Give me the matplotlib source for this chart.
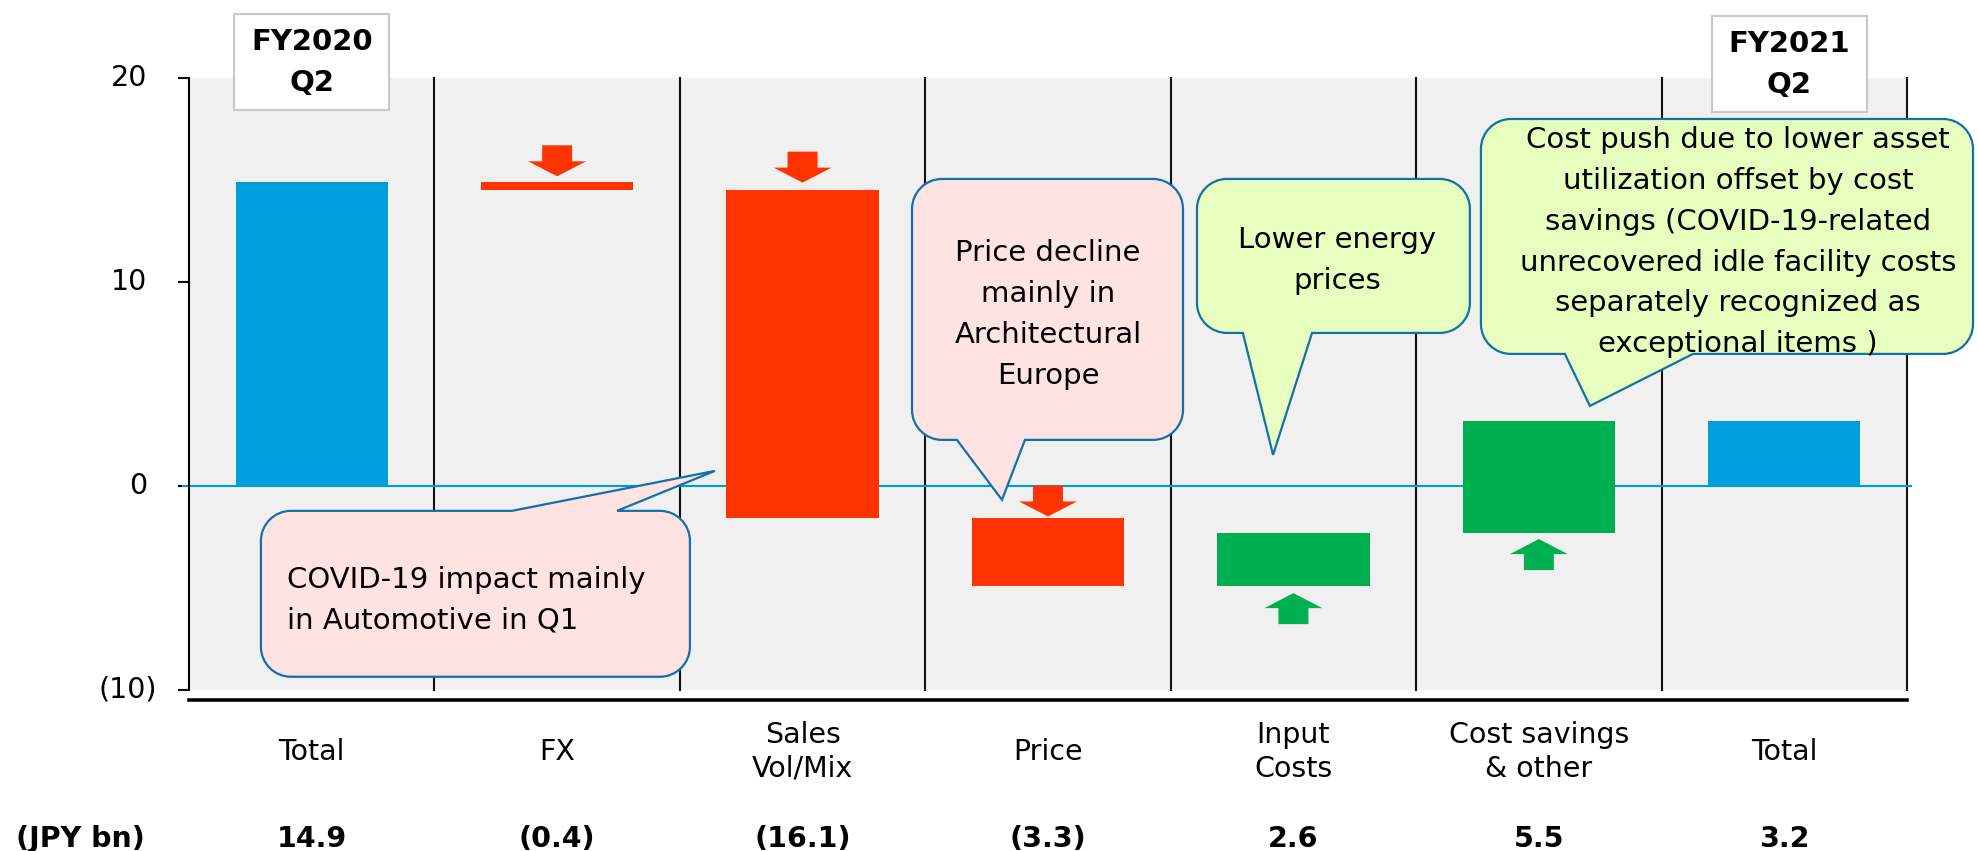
import matplotlib
matplotlib.use("Agg")
import matplotlib.pyplot as plt
import matplotlib.transforms as mtransforms
from matplotlib.path import Path
from matplotlib.patches import PathPatch, Rectangle, Polygon

# ---------------- data ----------------
categories = ["Total", "FX", "Sales\nVol/Mix", "Price", "Input\nCosts",
              "Cost savings\n& other", "Total"]
values = [14.9, -0.4, -16.1, -3.3, 2.6, 5.5, 3.2]
is_total = [True, False, False, False, False, False, True]
value_labels = ["14.9", "(0.4)", "(16.1)", "(3.3)", "2.6", "5.5", "3.2"]
unit_label = "(JPY bn)"
yticks = [-10, 0, 10, 20]
ytick_labels = ["(10)", "0", "10", "20"]
period_labels = ["FY2020\nQ2", "FY2021\nQ2"]
callout_texts = [
    "COVID-19 impact mainly\nin Automotive in Q1",
    "Price decline\nmainly in\nArchitectural\nEurope",
    "Lower energy\nprices",
    "Cost push due to lower asset\nutilization offset by cost\nsavings (COVID-19-related\n"
    "unrecovered idle facility costs\nseparately recognized as\nexceptional items )",
]

# ---------------- style ----------------
BLUE = "#009DDC"
RED = "#FF3300"
GREEN = "#00AF50"
BG = "#F0F0F0"
PINK = "#FFE3E3"
LIME = "#E6FFBE"
EDGE = "#1470A6"
FONT = "DejaVu Sans"
plt.rcParams["font.family"] = [FONT]

W, H, DPI = 1978, 851, 100
fig = plt.figure(figsize=(W / DPI, H / DPI), dpi=DPI)
ax_l, ax_r, ax_t, ax_b = 189, 1907, 78, 700
ax = fig.add_axes([ax_l / W, (H - ax_b) / H, (ax_r - ax_l) / W, (ax_b - ax_t) / H])
ax.set_facecolor("none")
n = len(categories)
ax.set_xlim(-0.5, n - 0.5)
ax.set_ylim(-10.5, 20)
sx = (ax_r - ax_l) / n          # px per x unit
sy = (ax_b - ax_t) / 30.5       # px per y unit

# background and grid separators
ax.axhspan(-10, 20, color=BG, zorder=0, lw=0)
for b in range(n):
    ax.plot([b + 0.5, b + 0.5], [-10, 20], color="#111111", lw=1.5, zorder=1,
            clip_on=False)

# spines
for s in ["top", "right"]:
    ax.spines[s].set_visible(False)
ax.spines["left"].set_bounds(-10, 20)
ax.spines["left"].set_linewidth(1.5)
ax.spines["bottom"].set_linewidth(2.6)
ax.set_xticks([])
ax.set_yticks(yticks)
ax.tick_params(axis="y", direction="out", length=8, width=1.5, labelleft=False)

ytr = ax.get_yaxis_transform()
for t, lab in zip(yticks, ytick_labels):
    xoff = (157 - ax_l) / (ax_r - ax_l) if lab.startswith("(") else (147 - ax_l) / (ax_r - ax_l)
    ax.text(xoff, t, lab, transform=ytr, ha="right", va="center", fontsize=20.5,
            clip_on=False)

# zero line
ax.plot([-0.525, n - 0.484], [0, 0], color=BLUE, lw=1.5, zorder=2, clip_on=False)

# waterfall bars
running = 0.0
bar_geo = []
for i, v in enumerate(values):
    if is_total[i]:
        bottom = 0.0
        running = v
        color = BLUE
    else:
        bottom = running
        running += v
        color = RED if v < 0 else GREEN
    ax.bar(i, v, bottom=bottom, width=0.62, color=color, zorder=3, lw=0)
    bar_geo.append((bottom, bottom + v))

# arrows
arrow_gap = {1: 0.28, 2: 0.37, 3: 0.1, 4: 0.36, 5: 0.31}
hw, sw, hl, L = 0.118, 0.061, 0.735, 1.52
for i, v in enumerate(values):
    if is_total[i]:
        continue
    b0, b1 = bar_geo[i]
    g = arrow_gap.get(i, 0.3)
    if v < 0:
        ty = max(b0, b1) + g
        d = 1
        col = RED
    else:
        ty = min(b0, b1) - g
        d = -1
        col = GREEN
    pts = [(i - sw, ty + d * L), (i + sw, ty + d * L), (i + sw, ty + d * hl),
           (i + hw, ty + d * hl), (i, ty), (i - hw, ty + d * hl), (i - sw, ty + d * hl)]
    ax.add_patch(Polygon(pts, closed=True, color=col, lw=0, zorder=4))


# callouts
def callout(x0, x1, y0, y1, side, ba, bb, tip, fc, rpx=30):
    rx, ry = rpx / sx, rpx / sy
    k = 0.5523
    V, C = [], []

    def mv(p):
        V.append(p); C.append(Path.MOVETO)

    def ln(p):
        V.append(p); C.append(Path.LINETO)

    def cv(p1, p2, p3):
        V.extend([p1, p2, p3]); C.extend([Path.CURVE4] * 3)

    mv((x0 + rx, y1))
    if side == "top":
        ln((ba, y1)); ln(tip); ln((bb, y1))
    ln((x1 - rx, y1))
    cv((x1 - rx + k * rx, y1), (x1, y1 - ry + k * ry), (x1, y1 - ry))
    ln((x1, y0 + ry))
    cv((x1, y0 + ry - k * ry), (x1 - rx + k * rx, y0), (x1 - rx, y0))
    if side == "bottom":
        ln((bb, y0)); ln(tip); ln((ba, y0))
    ln((x0 + rx, y0))
    cv((x0 + rx - k * rx, y0), (x0, y0 + ry - k * ry), (x0, y0 + ry))
    ln((x0, y1 - ry))
    cv((x0, y1 - ry + k * ry), (x0 + rx - k * rx, y1), (x0 + rx, y1))
    C.append(Path.CLOSEPOLY); V.append((x0 + rx, y1))
    ax.add_patch(PathPatch(Path(V, C), fc=fc, ec=EDGE, lw=1.6, zorder=6,
                           clip_on=False))


callout(-0.207, 1.541, -9.36, -1.225, "top", 0.816, 1.244, (1.643, 0.735), PINK)
callout(2.446, 3.550, 2.255, 15.05, "bottom", 2.629, 2.906, (2.8125, -0.686), PINK)
callout(3.607, 4.719, 7.5, 15.05, "bottom", 3.794, 4.076, (3.917, 1.52), LIME)
callout(4.764, 6.769, 6.47, 17.99, "bottom", 5.106, 5.628, (5.208, 3.92), LIME)

CS = 1.58
ax.text(-0.1007, -5.6, callout_texts[0], ha="left", va="center", fontsize=21,
        linespacing=CS, zorder=7)
ax.text(3.0, 8.4, callout_texts[1], ha="center", va="center", fontsize=21,
        linespacing=CS, zorder=7)
ax.text(4.178, 11.05, callout_texts[2], ha="center", va="center", fontsize=21,
        linespacing=CS, zorder=7)
ax.text(5.811, 11.95, callout_texts[3], ha="center", va="center", fontsize=21,
        linespacing=CS, zorder=7, clip_on=False)

# period header boxes
for xc, yc, lab in [(0.0, 20.76, period_labels[0]), (6.02, 20.68, period_labels[1])]:
    ax.add_patch(Rectangle((xc - 0.316, yc - 2.35), 0.632, 4.71, fc="white",
                           ec="#C8C8C8", lw=1.5, zorder=8, clip_on=False))
    ax.text(xc, yc, lab, ha="center", va="center", fontsize=21, fontweight="bold",
            linespacing=1.6, zorder=9, clip_on=False)

# category labels and values
for i, c in enumerate(categories):
    ax.text(i, -13.05, c, ha="center", va="center", fontsize=20.5, linespacing=1.27,
            clip_on=False)
    ax.text(i, -17.3, value_labels[i], ha="center", va="center", fontsize=20.5,
            fontweight="bold", clip_on=False)
btr = mtransforms.blended_transform_factory(ax.transAxes, ax.transData)
ax.text((16 - ax_l) / (ax_r - ax_l), -17.3, unit_label, transform=btr, ha="left",
        va="center", fontsize=20.5, fontweight="bold", clip_on=False)

fig.savefig("out.png", dpi=DPI, facecolor="white")
